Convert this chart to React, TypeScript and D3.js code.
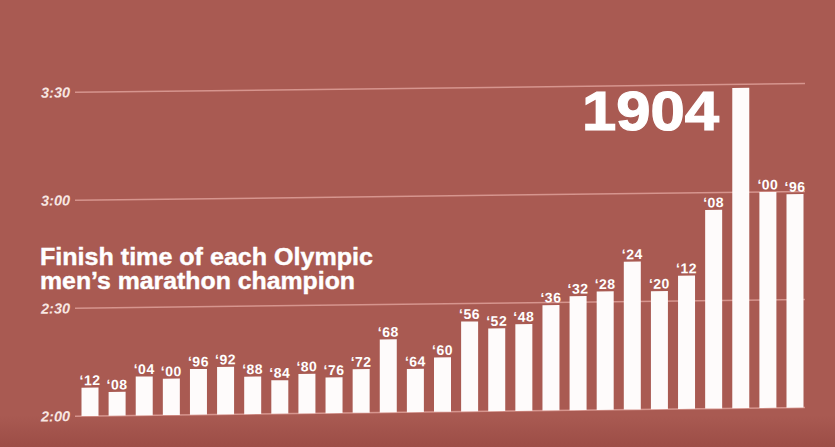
import React from "react";
import * as d3 from "d3";

const years = ["2012","2008","2004","2000","1996","1992","1988","1984","1980","1976","1972","1968","1964","1960","1956","1952","1948","1936","1932","1928","1924","1920","1912","1908","1904","1900","1896"];
const yearLabels = ["‘12","‘08","‘04","‘00","‘96","‘92","‘88","‘84","‘80","‘76","‘72","‘68","‘64","‘60","‘56","‘52","‘48","‘36","‘32","‘28","‘24","‘20","‘12","‘08","","‘00","‘96"];
// finish time in minutes
const minutes = [127.9,126.6,130.8,130.1,132.7,133.2,130.4,129.3,131.0,129.9,132.1,140.3,132.0,135.1,145.0,143.0,144.1,149.3,151.7,152.9,161.1,152.8,157.0,175.2,209.0,180.0,179.3];
const tickValues = [120, 150, 180, 210];
const tickLabels = ["2:00", "2:30", "3:00", "3:30"];

const W = 835, H = 447;
const BG = "#a95a52";
const K = -0.012; // slight slant of the photographed chart
const CX = 439;

export default function App() {
  const x = d3.scaleBand<string>().domain(years).range([76.44, 808.56]).paddingInner(0.373).paddingOuter(0.1865);
  const y = d3.scaleLinear().domain([120, 210]).range([411.8, 88]);
  const font = "'Liberation Sans', Arial, Helvetica, sans-serif";
  return (
    <svg width={W} height={H} style={{ position: "fixed", left: 0, top: 0 }}>
      <defs>
        <linearGradient id="bg" x1="0" y1="0" x2="0" y2="1">
          <stop offset="0" stopColor={BG} />
          <stop offset="0.93" stopColor={BG} />
          <stop offset="1" stopColor="#9c4d46" />
        </linearGradient>
      </defs>
      <rect width={W} height={H} fill="url(#bg)" />
      <g transform={`matrix(1,${K},0,1,0,${-K * CX})`}>
        {tickValues.map((t, i) => (
          <g key={t}>
            <line x1={75} x2={805} y1={y(t)} y2={y(t)} stroke="#d6958e" strokeWidth={1.5} />
            <text x={41} y={y(t) + 5} fill="#f7e6e2" fontFamily={font} fontWeight="bold" fontStyle="italic" fontSize={14.5}>{tickLabels[i]}</text>
          </g>
        ))}
        {years.map((yr, i) => (
          <g key={i}>
            <rect x={x(yr)} y={y(minutes[i])} width={x.bandwidth()} height={y(120) - y(minutes[i])} fill="#fefbfb" />
            <text x={(x(yr) as number) + x.bandwidth() / 2} y={y(minutes[i]) - 2.5} textAnchor="middle" fill="#fff" fontFamily={font} fontWeight="bold" fontSize={14} letterSpacing={0.5}>{yearLabels[i]}</text>
          </g>
        ))}
      </g>
      <text x={582} y={129.5} fill="#fff" stroke="#fff" strokeWidth={1.2} fontFamily={font} fontWeight="bold" fontSize={55} textLength={137} lengthAdjust="spacingAndGlyphs">1904</text>
      <text x={40} y={264.5} fill="#fff" stroke="#fff" strokeWidth={0.4} fontFamily={font} fontWeight="bold" fontSize={23} textLength={333} lengthAdjust="spacingAndGlyphs">Finish time of each Olympic</text>
      <text x={40} y={288.5} fill="#fff" stroke="#fff" strokeWidth={0.4} fontFamily={font} fontWeight="bold" fontSize={23} textLength={315} lengthAdjust="spacingAndGlyphs">men’s marathon champion</text>
    </svg>
  );
}
